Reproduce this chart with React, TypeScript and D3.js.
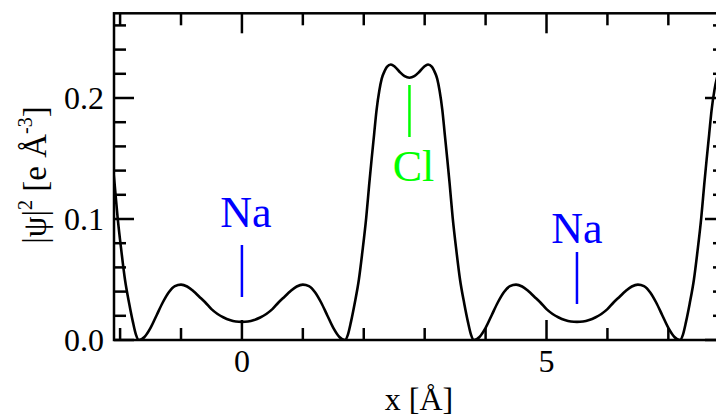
import React from "react";
import * as d3 from "d3";

// Positions along x [Å]
const xPositions = [
  -2.21, -2.17, -2.13, -2.09, -2.04, -1.98, -1.92, -1.85, -1.79, -1.74, -1.69,
  -1.6, -1.5, -1.4, -1.3, -1.2, -1.1, -1.0, -0.9, -0.8, -0.7, -0.6, -0.5, -0.4, -0.3, -0.2, -0.1,
  0.0, 0.1, 0.2, 0.3, 0.4, 0.5, 0.6, 0.7, 0.8, 0.9, 1.0, 1.1, 1.2, 1.3, 1.4, 1.5, 1.6, 1.69,
  1.74, 1.79, 1.85, 1.92, 1.98, 2.04, 2.09, 2.13, 2.17, 2.21, 2.255, 2.295, 2.34, 2.38, 2.445, 2.51, 2.59, 2.67,
  2.75, 2.83, 2.91, 2.99, 3.055, 3.12, 3.16, 3.205, 3.245, 3.29, 3.33, 3.37, 3.41, 3.46, 3.52, 3.58, 3.65, 3.71, 3.76, 3.81,
  3.9, 4.0, 4.1, 4.2, 4.3, 4.4, 4.5, 4.6, 4.7, 4.8, 4.9, 5.0, 5.1, 5.2, 5.3, 5.4,
  5.5, 5.6, 5.7, 5.8, 5.9, 6.0, 6.1, 6.2, 6.3, 6.4, 6.5, 6.6, 6.7, 6.8, 6.9, 7.0, 7.1, 7.19,
  7.24, 7.29, 7.35, 7.42, 7.48, 7.54, 7.59, 7.63, 7.67, 7.71, 7.755, 7.795, 7.84, 7.88, 7.945,
];

// |psi|^2 [e Å^-3]
const density = [
  0.19, 0.17, 0.15, 0.129, 0.101, 0.074, 0.05, 0.03, 0.015, 0.0045, 0.0,
  0.0025, 0.01, 0.0205, 0.031, 0.0395, 0.0445, 0.0458, 0.0442, 0.0405, 0.0358, 0.031, 0.0255, 0.0215, 0.0186, 0.0165, 0.0153,
  0.015, 0.0153, 0.0165, 0.0186, 0.0215, 0.0255, 0.031, 0.0358, 0.0405, 0.0442, 0.0458, 0.0445, 0.0395, 0.031, 0.0205, 0.01, 0.0025, 0.0,
  0.0045, 0.015, 0.03, 0.05, 0.074, 0.101, 0.129, 0.15, 0.17, 0.19, 0.206, 0.216, 0.222, 0.2258, 0.2277, 0.2258, 0.2215, 0.218,
  0.2167, 0.218, 0.2215, 0.2258, 0.2277, 0.2258, 0.222, 0.216, 0.206, 0.19, 0.17, 0.15, 0.129, 0.101, 0.074, 0.05, 0.03, 0.015, 0.0045, 0.0,
  0.0025, 0.01, 0.0205, 0.031, 0.0395, 0.0445, 0.0458, 0.0442, 0.0405, 0.0358, 0.031, 0.0255, 0.0215, 0.0186, 0.0165, 0.0153,
  0.015, 0.0153, 0.0165, 0.0186, 0.0215, 0.0255, 0.031, 0.0358, 0.0405, 0.0442, 0.0458, 0.0445, 0.0395, 0.031, 0.0205, 0.01, 0.0025, 0.0,
  0.0045, 0.015, 0.03, 0.05, 0.074, 0.101, 0.129, 0.15, 0.17, 0.19, 0.206, 0.216, 0.222, 0.2258, 0.2277,
];

const xMajorTicks = [0, 5];
const xMinorTicks = [-2, -1, 1, 2, 3, 4, 6, 7];
const yMajorTicks = [0, 0.1, 0.2];
const yMinorTicks = [0.02, 0.04, 0.06, 0.08, 0.12, 0.14, 0.16, 0.18, 0.22, 0.24, 0.26];

// atom annotations: label, x position
const atomLabels = ["Na", "Cl", "Na"];
const atomX = [0, 2.75, 5.5];
const atomColors = ["#0000ff", "#00ff00", "#0000ff"];

const W = 716;
const H = 415;
const L = 114, R = 725, T = 13.3, B = 340;
const FONT = "Liberation Serif, DejaVu Serif, serif";

export default function App() {
  const x = d3.scaleLinear().domain([-2.1, 7.93]).range([L, R]);
  const y = d3.scaleLinear().domain([0, 0.27]).range([B, T]);
  const pts: [number, number][] = xPositions.map((v, i) => [v, density[i]]);
  const line = d3
    .line<[number, number]>()
    .x((d) => x(d[0]))
    .y((d) => y(d[1]))
    .curve(d3.curveMonotoneX);

  const majorLen = 20;
  const minorLen = 12;
  const sw = 2.5;

  const ann = [
    { textY: 227, lineTop: 245, lineBot: 297, dx: 4 },
    { textY: 181, lineTop: 85, lineBot: 137, dx: 4 },
    { textY: 242.5, lineTop: 252, lineBot: 304, dx: 0 },
  ];

  const tStyle = { fontFamily: FONT };

  return (
    <svg
      width={W}
      height={H}
      style={{ position: "absolute", left: 0, top: 0, background: "#fff", fontFamily: FONT }}
    >
      <defs>
        <clipPath id="plotClip">
          <rect x={L} y={T} width={R - L} height={B - T} />
        </clipPath>
      </defs>
      <rect x={0} y={0} width={W} height={H} fill="#fff" />

      <path
        d={line(pts) || ""}
        fill="none"
        stroke="#000"
        strokeWidth={2.6}
        clipPath="url(#plotClip)"
      />

      {atomLabels.map((lab, i) => {
        const cx = x(atomX[i]);
        const a = ann[i];
        return (
          <g key={i}>
            <line x1={cx} x2={cx} y1={a.lineTop} y2={a.lineBot} stroke={atomColors[i]} strokeWidth={2.5} />
            <text x={cx + a.dx} y={a.textY} textAnchor="middle" fontSize={44} fill={atomColors[i]} style={tStyle}>
              {lab}
            </text>
          </g>
        );
      })}

      {xMajorTicks.map((t) => (
        <g key={"xM" + t}>
          <line x1={x(t)} x2={x(t)} y1={B} y2={B - majorLen} stroke="#000" strokeWidth={sw} />
          <line x1={x(t)} x2={x(t)} y1={T} y2={T + majorLen} stroke="#000" strokeWidth={sw} />
          <text x={x(t)} y={372} textAnchor="middle" fontSize={32} fill="#000" style={tStyle}>
            {t}
          </text>
        </g>
      ))}
      {xMinorTicks.map((t) => (
        <g key={"xm" + t}>
          <line x1={x(t)} x2={x(t)} y1={B} y2={B - minorLen} stroke="#000" strokeWidth={sw} />
          <line x1={x(t)} x2={x(t)} y1={T} y2={T + minorLen} stroke="#000" strokeWidth={sw} />
        </g>
      ))}
      {yMajorTicks.map((t) => (
        <g key={"yM" + t}>
          <line x1={L} x2={L + majorLen} y1={y(t)} y2={y(t)} stroke="#000" strokeWidth={sw} />
          <line x1={R} x2={R - majorLen} y1={y(t)} y2={y(t)} stroke="#000" strokeWidth={sw} />
          <text x={104} y={y(t) + 11} textAnchor="end" fontSize={32} fill="#000" style={tStyle}>
            {d3.format(".1f")(t)}
          </text>
        </g>
      ))}
      {yMinorTicks.map((t) => (
        <g key={"ym" + t}>
          <line x1={L} x2={L + minorLen} y1={y(t)} y2={y(t)} stroke="#000" strokeWidth={sw} />
          <line x1={R} x2={R - minorLen} y1={y(t)} y2={y(t)} stroke="#000" strokeWidth={sw} />
        </g>
      ))}

      <rect x={L} y={T} width={R - L} height={B - T} fill="none" stroke="#000" strokeWidth={sw} />

      <text x={419} y={410} textAnchor="middle" fontSize={32} fill="#000" style={tStyle}>
        x [Å]
      </text>
      <text
        transform={`translate(46,175) rotate(-90)`}
        textAnchor="middle"
        fontSize={33}
        fill="#000"
        style={tStyle}
      >
        <tspan>|ψ|</tspan>
        <tspan fontSize={20} dy={-14}>2</tspan>
        <tspan dy={14}> [e Å</tspan>
        <tspan fontSize={20} dy={-14}>-3</tspan>
        <tspan dy={14}>]</tspan>
      </text>
    </svg>
  );
}
